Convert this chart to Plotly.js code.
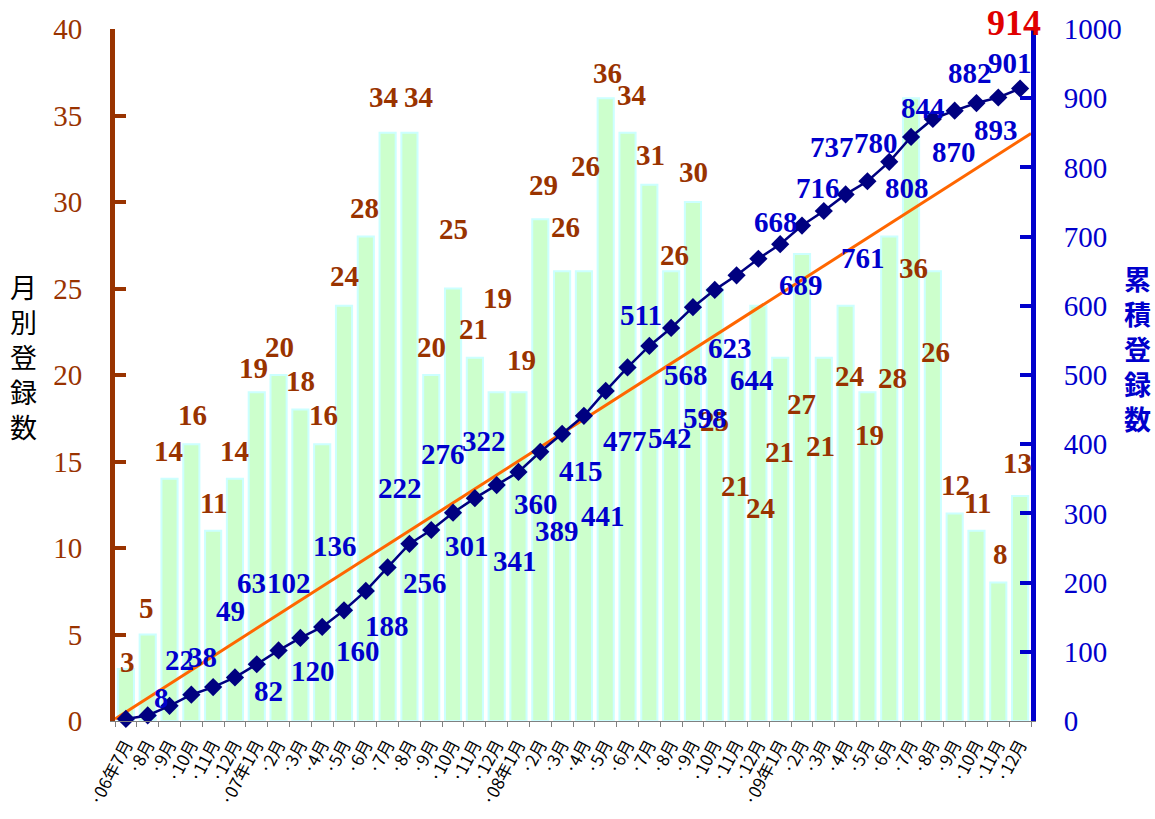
<!DOCTYPE html>
<html>
<head>
<meta charset="utf-8">
<script src="https://cdn.plot.ly/plotly-3.0.1.min.js"></script>
<style>html,body{margin:0;padding:0;background:#fff;}#chart{width:1155px;height:819px;}</style>
</head>
<body>
<div id="chart"></div>
<script>
// ---- data ----
const months = ["·06年7月","·8月","·9月","·10月","·11月","·12月",
  "·07年1月","·2月","·3月","·4月","·5月","·6月","·7月","·8月","·9月","·10月","·11月","·12月",
  "·08年1月","·2月","·3月","·4月","·5月","·6月","·7月","·8月","·9月","·10月","·11月","·12月",
  "·09年1月","·2月","·3月","·4月","·5月","·6月","·7月","·8月","·9月","·10月","·11月","·12月"];
const monthly = [3,5,14,16,11,14,19,20,18,16,24,28,34,34,20,25,21,19,19,29,26,26,36,34,31,26,30,25,21,24,21,27,21,24,19,28,36,26,12,11,8,13];
const cumulative = [3,8,22,38,49,63,82,102,120,136,160,188,222,256,276,301,322,341,360,389,415,441,477,511,542,568,598,623,644,668,689,716,737,761,780,808,844,870,882,893,901,914];
const trendValues = [3, 849];   // reference line values at the left and right plot edges (cumulative scale)

// ---- label placement (pixel offsets, style only) ----
const barLabelOffsets = [[2,-7],[-1,-27],[-1,-28],[1,-29],[0,-28],[0,-28],[-3,-24],[1,-28],[0,-29],[1,-29],
  [0,-30],[-1,-29],[-4,-36],[9,-36],[0,-28],[0,-60],[-1,-29],[1,-94],[3,-32],[3,-34],
  [3,-44],[2,-105],[2,-25],[4,-38],[1,-30],[3,-16],[1,-30],[0,132],[-1,128],[2,202],
  [-1,94],[-1,150],[-3,88],[4,70],[2,43],[3,141],[2,170],[3,81],[1,-28],[1,-28],[2,-29],[-3,-33]];
const cumLabelOffsets = [null,[14,-17],[10,-46],[11,-38],[17,-76],[17,-94],[12,27],[10,-67],[13,33],[13,-81],
  [14,41],[21,35],[12,-79],[16,39],[12,-76],[14,33],[9,-57],[18,76],[18,32],[17,79],
  [19,37],[19,100],[19,50],[13,-52],[21,92],[15,47],[12,111],[15,58],[15,105],[18,-37],
  [21,41],[16,-38],[8,-64],[17,64],[9,-38],[18,26],[12,-29],[21,33],[15,-38],[20,27],[12,-35],[-6,-66]];

const BROWN = '#993300', BLUE = '#0000CC', NAVY = '#000080';
const idx = months.map((_, i) => i);
const xRange = [-0.5, months.length - 0.5];

const bars = {
  type: 'bar', x: idx, y: monthly, width: 0.74,
  marker: {color: '#CCFFCC', line: {color: '#CCFFFF', width: 2}},
  hoverinfo: 'skip', showlegend: false
};
const trend = {
  type: 'scatter', mode: 'lines', x: xRange, y: trendValues, yaxis: 'y2',
  line: {color: '#FF6600', width: 3}, hoverinfo: 'skip', showlegend: false
};
const cumLine = {
  type: 'scatter', mode: 'lines+markers', x: idx, y: cumulative, yaxis: 'y2',
  line: {color: NAVY, width: 2.5},
  marker: {symbol: 'diamond', size: 14, color: NAVY},
  cliponaxis: false, hoverinfo: 'skip', showlegend: false
};

const labelFont = (c, s) => ({family: 'Liberation Serif, DejaVu Serif, serif', size: s, color: c, weight: 'bold'});
const annotations = [];
monthly.forEach((v, i) => {
  const o = barLabelOffsets[i];
  annotations.push({x: i, y: v, xref: 'x', yref: 'y', text: '<b>' + v + '</b>', showarrow: false,
    xanchor: 'center', yanchor: 'middle', xshift: o[0], yshift: -o[1], font: labelFont(BROWN, 29)});
});
cumulative.forEach((v, i) => {
  const o = cumLabelOffsets[i];
  if (!o) return;
  const last = i === cumulative.length - 1;
  annotations.push({x: i, y: v, xref: 'x', yref: 'y2', text: '<b>' + v + '</b>', showarrow: false,
    xanchor: 'center', yanchor: 'middle', xshift: o[0], yshift: -o[1],
    font: last ? labelFont('#E00000', 36) : labelFont(BLUE, 29)});
});

const W = 1155, H = 819, M = {l: 115, r: 124, t: 29, b: 98};
const pw = W - M.l - M.r, ph = H - M.t - M.b;
annotations.push({xref: 'paper', yref: 'paper', x: (23 - M.l) / pw, y: (H - M.b - 356) / ph,
  text: '月<br>別<br>登<br>録<br>数', showarrow: false, xanchor: 'center', yanchor: 'middle',
  font: {family: 'Noto Sans CJK JP', size: 27, color: '#000000'}});
annotations.push({xref: 'paper', yref: 'paper', x: (1137 - M.l) / pw, y: (H - M.b - 348) / ph,
  text: '<b>累<br>積<br>登<br>録<br>数</b>', showarrow: false, xanchor: 'center', yanchor: 'middle',
  font: {family: 'Noto Sans CJK JP', size: 27, color: BLUE}});

const layout = {
  width: W, height: H, margin: M, paper_bgcolor: '#ffffff', plot_bgcolor: '#ffffff',
  showlegend: false, bargap: 0.26,
  xaxis: {
    type: 'linear', range: xRange, tickmode: 'array', tickvals: idx, ticktext: months,
    tickangle: -62, ticks: '', showgrid: false, zeroline: false, ticklabelstandoff: 6,
    showline: true, linecolor: '#808080', linewidth: 1,
    tickfont: {family: 'Noto Sans CJK JP', size: 17, color: '#000000'},
    minor: {tick0: -0.5, dtick: 1, ticks: 'outside', ticklen: 5, tickcolor: '#808080', tickwidth: 1, showgrid: false}
  },
  yaxis: {
    range: [0, 40], dtick: 5, tick0: 0, showgrid: false, zeroline: false,
    showline: true, linecolor: BROWN, linewidth: 5,
    ticks: 'inside', ticklen: 11, tickwidth: 4, tickcolor: BROWN, ticklabelstandoff: 22,
    tickfont: {family: 'Liberation Serif, serif', size: 29, color: BROWN}
  },
  yaxis2: {
    overlaying: 'y', side: 'right', range: [0, 1000], dtick: 100, tick0: 0,
    showgrid: false, zeroline: false, showline: true, linecolor: BLUE, linewidth: 5,
    ticks: 'inside', ticklen: 11, tickwidth: 4, tickcolor: BLUE, ticklabelstandoff: 22,
    tickfont: {family: 'Liberation Serif, serif', size: 29, color: BLUE}
  },
  annotations: annotations
};

Plotly.newPlot('chart', [bars, trend, cumLine], layout, {displayModeBar: false, staticPlot: true});
</script>
</body>
</html>
